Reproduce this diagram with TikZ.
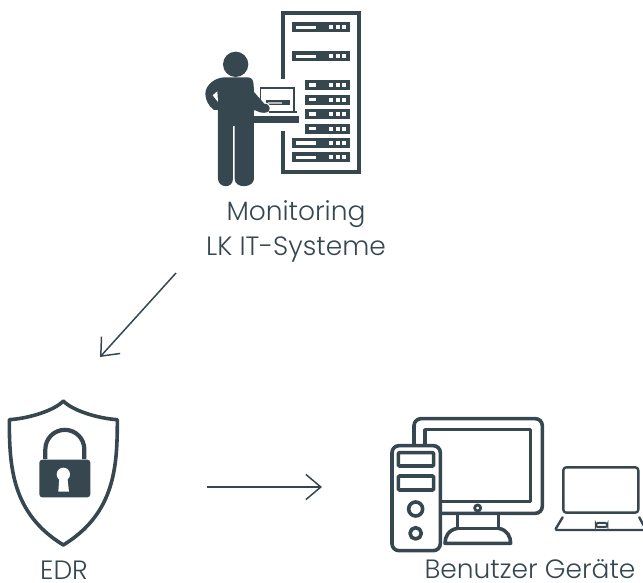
\documentclass[tikz,border=0pt]{standalone}
\usepackage{fontspec}
\setmainfont{Poppins}[UprightFont=* Light]
\definecolor{ink}{HTML}{37474F}
\tikzset{
  lab/.style={font=\fontsize{26.5}{30}\selectfont, text=ink, anchor=base, inner sep=0pt},
  conn/.style={draw=ink, line width=1.5pt, -{Straight Barb[length=15pt,width=24pt,angle'=80,line width=1.5pt]}},
  ol/.style={draw=ink, line width=3.6pt, line join=round},
  olthin/.style={draw=ink, line width=2.4pt, line join=round, line cap=round}
}
\usetikzlibrary{arrows.meta}
\begin{document}
\begin{tikzpicture}[x=1pt,y=-1pt]
\useasboundingbox (0,0) rectangle (643,582);
% --- server rack and person
\begin{scope}[shift={(190,0)},x=0.3333pt,y=-0.3333pt]
  \fill[ink] (274,32) rectangle (512,522);
  \fill[white] (286,44) rectangle (500,510);
  \fill[white] (270,236) rectangle (300,394);
  \foreach \yy/\xx in {67/307,154/307,240/345,284/345,327/345,371/345,414/307,457/307}{
    \fill[ink] (\xx,\yy) rectangle (479,\yy+30);
    \fill[white] (\xx+11,\yy+10) rectangle (378,\yy+20);
    \foreach \sq in {418,438,457}{\fill[white] (\sq,\yy+9) rectangle (\sq+12,\yy+21);}
  }
  % person
  \fill[ink] (137,193) circle (38);
  \fill[ink] (105,232) -- (172,232) .. controls (186,232) and (190,240) .. (191,255)
     -- (192,276) -- (222,310) .. controls (236,308) and (244,322) .. (238,332)
     .. controls (232,340) and (215,338) .. (208,336) -- (192,330)
     -- (192,536) .. controls (192,564) and (134,568) .. (134,536) -- (134,378) -- (129,378) -- (129,536)
     .. controls (129,568) and (84,564) .. (84,536) -- (84,330)
     -- (72,330) .. controls (55,318) and (46,298) .. (46,282)
     .. controls (46,255) and (75,232) .. (105,232) -- cycle;
  \fill[white] (82,274) -- (68,286) -- (84,306) -- cycle;
  % desk and laptop
  \fill[ink] (183,348) rectangle (328,368);
  \draw[ink,line width=1.5pt] (212,320) -- (212,264) -- (312,264) -- (312,332);
  \fill[ink] (228,300) rectangle (300,316);
  \fill[gray!55] (235,305) rectangle (275,311);
  \fill[ink] (236,332) rectangle (320,338);
  \fill[ink] (222,310) .. controls (236,308) and (244,322) .. (238,332) .. controls (232,340) and (215,338) .. (208,336) -- cycle;
  \draw[white,line width=1pt] (222,309) .. controls (236,307) and (245,322) .. (239,333);
\end{scope}
\node[lab] (mon) at (296,220) {Monitoring};
\node[lab] (lk) at (296,255) {LK IT-Systeme};
% --- shield
\begin{scope}[shift={(0,390)},x=0.3333pt,y=-0.3333pt]
  \draw[ink,line width=3.6pt,line join=round]
    (190,33) .. controls (215,60) and (290,85) .. (352,89)
    .. controls (352,230) and (345,370) .. (190,465)
    .. controls (35,370) and (28,230) .. (28,89)
    .. controls (90,85) and (165,60) .. (190,33) -- cycle;
  \draw[ink,line width=4.2pt] (136,207) -- (136,178) arc[start angle=180,end angle=0,x radius=19.5pt,y radius=19.5pt] -- (253,207);
  \fill[ink,rounded corners=3pt] (118,209) rectangle (271,322);
  \fill[white] (190,253) circle (20);
  \fill[white] (178,262) -- (202,262) -- (207,305) -- (175,305) -- cycle;
\end{scope}
\node[lab] (edr) at (64,579) {EDR};
% --- computers
\begin{scope}[shift={(380,405)},x=0.3333pt,y=-0.3333pt]
  \draw[ol,rounded corners=7pt] (102,41) rectangle (487,325);
  \draw[ol] (135,74) rectangle (452,290);
  \draw[draw=ink,line width=2.8pt] (293,309) circle (9);
  \draw[ol] (232,325) -- (232,370) -- (356,370) -- (356,325);
  \draw[ol] (232,370) .. controls (205,375) and (195,395) .. (195,415) -- (392,415) .. controls (392,395) and (382,375) .. (356,370);
  \draw[ol,fill=white,rounded corners=7pt] (36,122) rectangle (181,437);
  \draw[ol,rounded corners=1pt] (55,143) rectangle (161,183);
  \draw[ol,rounded corners=1pt] (55,213) rectangle (161,255);
  \draw[ol] (107,312) circle (21);
  \draw[ol] (107,385) circle (17);
  \draw[olthin,rounded corners=3pt] (550,187) rectangle (775,323);
  \draw[olthin,rounded corners=1.5pt] (548,337) -- (525,375) -- (790,375);
  \draw[olthin] (778,337) -- (790,360);
  \draw[draw=ink,line width=2pt,rounded corners=2pt] (648,354) rectangle (682,366);
\end{scope}
\node[lab] (ben) at (530,578) {Benutzer Geräte};
% --- connectors
\coordinate (a1) at (176,273);
\coordinate (a2) at (100,357);
\coordinate (b1) at (207,487);
\coordinate (b2) at (322,487);
\draw[conn] (a1) -- (a2);
\draw[conn] (b1) -- (b2);
\end{tikzpicture}
\end{document}
